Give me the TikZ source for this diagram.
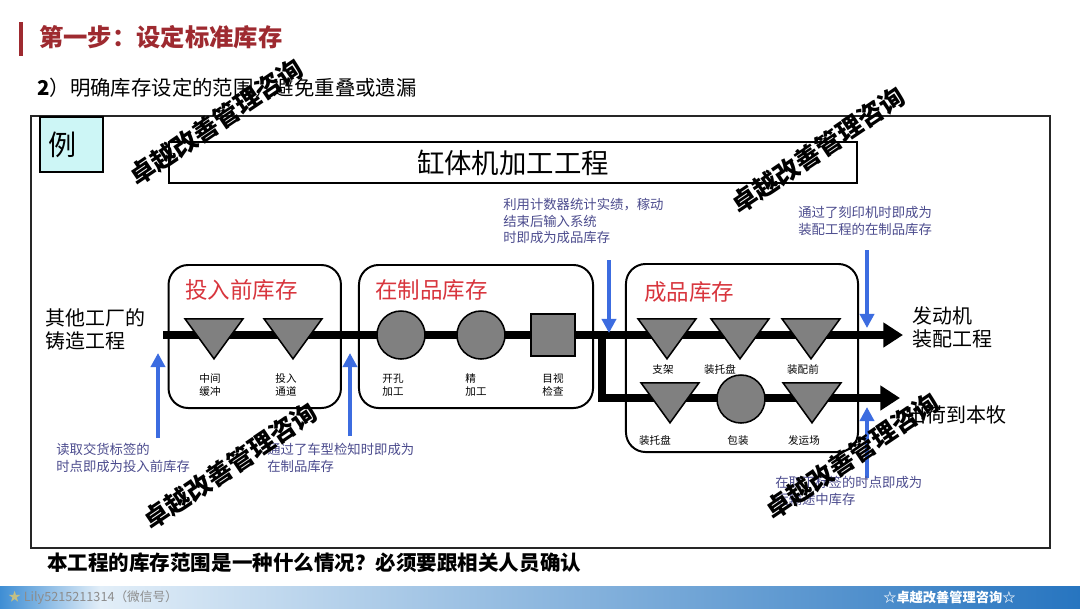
\documentclass[tikz,border=0pt]{standalone}
\usepackage{fontspec}
\setmainfont{Noto Sans CJK SC}
\usepackage{tikz}
\usetikzlibrary{arrows,arrows.meta,positioning,shapes}
\usepackage{xcolor}

\definecolor{titlered}{HTML}{9E2A30}
\definecolor{stockred}{HTML}{D8353D}
\definecolor{cueblue}{HTML}{3C6CE0}
\definecolor{notetext}{HTML}{4C4C8E}
\definecolor{partgray}{HTML}{808080}
\definecolor{examplecyan}{HTML}{CDF6F6}
\definecolor{bandleft}{HTML}{3F8ED4}
\definecolor{bandlight}{HTML}{E2EEF8}
\definecolor{bandright}{HTML}{2775C0}

\tikzset{
  flow/.style={line width=5.5pt, -{Triangle[length=14pt,width=17pt]}},
  cue/.style={cueblue, line width=2.5pt, -{Triangle[length=10pt,width=10pt]}},
  stockbox/.style={draw, line width=1.4pt, rounded corners=14pt},
  stocklabel/.style={text=stockred, font=\fontsize{16pt}{18pt}\selectfont, anchor=west, inner sep=0pt},
  tri/.style={isosceles triangle, shape border rotate=270, isosceles triangle stretches,
    minimum width=1.45cm, minimum height=1.0cm, inner sep=0pt, draw, fill=partgray, line width=1.1pt, anchor=north},
  op/.style={circle, minimum size=1.2cm, inner sep=0pt, draw, fill=partgray, line width=1.1pt},
  tag/.style={font=\fontsize{7.5pt}{9.3pt}\selectfont, align=center, inner sep=0pt},
  note/.style={text=notetext, font=\fontsize{9.5pt}{11.7pt}\selectfont, align=left, inner sep=0pt, anchor=north west},
  side/.style={font=\fontsize{14.2pt}{16.5pt}\selectfont, align=left, inner sep=0pt, anchor=north west},
  stamp/.style={font=\fontsize{18pt}{20pt}\selectfont\bfseries, rotate=34, inner sep=0pt}
}

\begin{document}
\begin{tikzpicture}[x=0.025cm, y=-0.025cm]
    \useasboundingbox (0,0) rectangle (1080,608);
    \fill[white] (0,0) rectangle (1080,608);

    % 标题
    \fill[titlered] (19,22) rectangle (23,56);
    \node[anchor=west, inner sep=0pt, text=titlered, font=\fontsize{17.3pt}{20pt}\selectfont\bfseries] (title) at (39,37) {第一步：设定标准库存};
    \node[anchor=west, inner sep=0pt, font=\fontsize{14.5pt}{18pt}\selectfont] (subtitle) at (37,88) {\textbf{2}）明确库存设定的范围，避免重叠或遗漏};

    % 外框
    \draw[line width=1.1pt, black!85] (31,116) rectangle (1050,548);
    \node[draw, fill=examplecyan, line width=1pt, minimum width=1.575cm, minimum height=1.375cm] (example) at (71.5,144.5) {};
    \node[font=\fontsize{20pt}{22pt}\selectfont, inner sep=0pt] (exampletext) at (63,145) {例};
    \node[draw, line width=1.8pt, minimum width=17.2cm, minimum height=1.025cm, font=\fontsize{19.5pt}{22pt}\selectfont] (process) at (513,162.5) {缸体机加工工程};

    % 库存区
    \node[stockbox, minimum width=4.31cm, minimum height=3.575cm] (prebox) at (254.75,336.5) {};
    \node[stockbox, minimum width=5.85cm, minimum height=3.575cm] (wipbox) at (476,336.5) {};
    \node[stockbox, minimum width=5.8cm, minimum height=4.7cm] (fgbox) at (742,358) {};
    \node[stocklabel] (prelabel) at (185,290) {投入前库存};
    \node[stocklabel] (wiplabel) at (375,290) {在制品库存};
    \node[stocklabel] (fglabel) at (644,292) {成品库存};

    % 流程线
    \coordinate (src) at (163,335);
    \coordinate (dst) at (903,335);
    \coordinate (fork) at (602,335);
    \coordinate (dst2) at (900,398);
    \draw[flow] (src) -- (dst);
    \draw[flow] (fork) |- (dst2);

    % 工序
    \node[tri] (buffer) at (214,318) {};
    \node[tri] (chute) at (293,318) {};
    \node[op] (drill) at (401,335) {};
    \node[op] (finish) at (481,335) {};
    \node[draw, fill=partgray, line width=1.1pt, minimum width=1.1cm, minimum height=1.05cm, inner sep=0pt] (inspect) at (553,335) {};
    \node[tri] (rack) at (667,318) {};
    \node[tri] (tray) at (740,318) {};
    \node[tri] (preasm) at (811,318) {};
    \node[tri] (tray2) at (670,382) {};
    \node[op] (pack) at (741,399) {};
    \node[tri] (yard) at (812,382) {};

    \node[tag] (buffertag) at (210,385) {中间\\缓冲};
    \node[tag] (chutetag) at (286,385) {投入\\通道};
    \node[tag] (drilltag) at (393,385) {开孔\\加工};
    \node[tag, align=left] (finishtag) at (476,385) {精\\加工};
    \node[tag] (inspecttag) at (553,385) {目视\\检查};
    \node[tag] (racktag) at (663,369) {支架};
    \node[tag] (traytag) at (720,369) {装托盘};
    \node[tag] (preasmtag) at (803,369) {装配前};
    \node[tag] (tray2tag) at (655,440) {装托盘};
    \node[tag] (packtag) at (738,440) {包装};
    \node[tag] (yardtag) at (804,440) {发运场};

    % 前后工程
    \node[side] (foundry) at (45,308) {其他工厂的\\铸造工程};
    \node[side] (engine) at (912,306) {发动机\\装配工程};
    \node[side, anchor=west] (honmoku) at (906,415) {出荷到本牧};

    % 库存时点
    \coordinate (cue1a) at (609,260);  \coordinate (cue1b) at (609,333);
    \coordinate (cue2a) at (867,250);  \coordinate (cue2b) at (867,328);
    \coordinate (cue3a) at (158,438);  \coordinate (cue3b) at (158,353);
    \coordinate (cue4a) at (350,436);  \coordinate (cue4b) at (350,353);
    \coordinate (cue5a) at (867,478);  \coordinate (cue5b) at (867,407);
    \draw[cue] (cue1a) -- (cue1b);
    \draw[cue] (cue2a) -- (cue2b);
    \draw[cue] (cue3a) -- (cue3b);
    \draw[cue] (cue4a) -- (cue4b);
    \draw[cue] (cue5a) -- (cue5b);

    \node[note] (countnote) at (503,198) {利用计数器统计实绩，稼动\\结束后输入系统\\时即成为成品库存};
    \node[note] (stampnote) at (798,206) {通过了刻印机时即成为\\装配工程的在制品库存};
    \node[note] (labelnote) at (56,443) {读取交货标签的\\时点即成为投入前库存};
    \node[note] (modelnote) at (267,443) {通过了车型检知时即成为\\在制品库存};
    \node[note] (shipnote) at (775,476) {在取下标签的时点即成为\\运输途中库存};

    % 结论
    \node[anchor=west, inner sep=0pt, font=\fontsize{14.6pt}{17pt}\selectfont\bfseries] (summary) at (47,563) {本工程的库存范围是一种什么情况？必须要跟相关人员确认};

    % 水印
    \node[stamp] (stamp1) at (216,122) {卓越改善管理咨询};
    \node[stamp] (stamp2) at (818,150) {卓越改善管理咨询};
    \node[stamp] (stamp3) at (230,466) {卓越改善管理咨询};
    \node[stamp] (stamp4) at (852,456) {卓越改善管理咨询};

    % 页脚
    \shade[left color=bandleft, right color=bandlight] (0,586) rectangle (100,608);
    \shade[left color=bandlight, right color=bandright] (100,586) rectangle (1080,608);
    \node[anchor=west, inner sep=0pt, text=black!45, font=\fontsize{9pt}{10pt}\selectfont] (wechat) at (8,598) {\textcolor{black!45!yellow!60}{★} Lily5215211314（微信号）};
    \node[anchor=west, inner sep=0pt, text=white, font=\fontsize{9.4pt}{10pt}\selectfont\bfseries] (brand) at (883,597) {☆卓越改善管理咨询☆};
\end{tikzpicture}
\end{document}
